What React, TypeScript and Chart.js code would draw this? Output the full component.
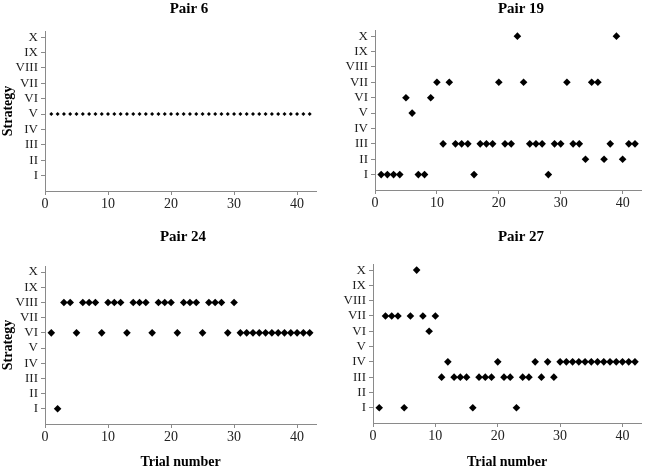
import { useEffect, useRef } from "react";
import { Chart, registerables } from "chart.js";

Chart.register(...registerables);

// trial numbers on the x axis
const trials = [
  1, 2, 3, 4, 5, 6, 7, 8, 9, 10, 11, 12, 13, 14, 15, 16, 17, 18, 19, 20, 21,
  22, 23, 24, 25, 26, 27, 28, 29, 30, 31, 32, 33, 34, 35, 36, 37, 38, 39, 40,
  41, 42,
];

// strategy labels, I = 1 ... X = 10
const strategyLabels = ["I", "II", "III", "IV", "V", "VI", "VII", "VIII", "IX", "X"];
const xTickValues = [0, 10, 20, 30, 40];

// chosen strategy per trial
const pair6 = [
  5, 5, 5, 5, 5, 5, 5, 5, 5, 5, 5, 5, 5, 5, 5, 5, 5, 5, 5, 5, 5, 5, 5, 5, 5, 5,
  5, 5, 5, 5, 5, 5, 5, 5, 5, 5, 5, 5, 5, 5, 5, 5,
];
const pair19 = [
  1, 1, 1, 1, 6, 5, 1, 1, 6, 7, 3, 7, 3, 3, 3, 1, 3, 3, 3, 7, 3, 3, 10, 7, 3,
  3, 3, 1, 3, 3, 7, 3, 3, 2, 7, 7, 2, 3, 10, 2, 3, 3,
];
const pair24 = [
  6, 1, 8, 8, 6, 8, 8, 8, 6, 8, 8, 8, 6, 8, 8, 8, 6, 8, 8, 8, 6, 8, 8, 8, 6, 8,
  8, 8, 6, 8, 6, 6, 6, 6, 6, 6, 6, 6, 6, 6, 6, 6,
];
const pair27 = [
  1, 7, 7, 7, 1, 7, 10, 7, 6, 7, 3, 4, 3, 3, 3, 1, 3, 3, 3, 4, 3, 3, 1, 3, 3, 4,
  3, 4, 3, 4, 4, 4, 4, 4, 4, 4, 4, 4, 4, 4, 4, 4,
];

const FONT = '"Liberation Serif", "Times New Roman", serif';
const AXIS_GREY = "#8a8a8a";

// draws the panel heading at a fixed spot in the canvas
const panelTitle = {
  id: "panelTitle",
  afterDraw(chart: any, _args: any, opts: any) {
    const { ctx } = chart;
    ctx.save();
    ctx.font = `bold 15px ${FONT}`;
    ctx.fillStyle = "#000";
    ctx.textAlign = "center";
    ctx.textBaseline = "alphabetic";
    ctx.fillText(opts.text, opts.x, opts.y);
    ctx.restore();
  },
};

type PanelProps = {
  title: string;
  values: number[];
  left: number;
  top: number;
  w: number;
  h: number;
  area: { l: number; t: number; r: number; b: number };
  titleX: number;
  titleY: number;
  radius: number;
  showY: boolean;
  showX: boolean;
};

const Panel = (p: PanelProps) => {
  const ref = useRef<HTMLCanvasElement>(null);

  useEffect(() => {
    if (!ref.current) return;
    const chart = new Chart(ref.current, {
      type: "scatter",
      data: {
        datasets: [
          {
            data: trials.map((t, i) => ({ x: t, y: p.values[i] })),
            pointStyle: "rectRot",
            pointRadius: p.radius,
            pointHoverRadius: p.radius,
            pointBorderWidth: 0,
            backgroundColor: "#000",
            borderColor: "#000",
          },
        ],
      },
      plugins: [panelTitle],
      options: {
        animation: false,
        responsive: true,
        maintainAspectRatio: false,
        layout: {
          padding: { left: 0, top: p.area.t, right: p.w - p.area.r, bottom: 0 },
        },
        plugins: {
          legend: { display: false },
          tooltip: { enabled: false },
          panelTitle: { text: p.title, x: p.titleX, y: p.titleY },
        } as any,
        scales: {
          x: {
            type: "linear",
            min: 0,
            max: 43,
            afterBuildTicks: (s: any) => {
              s.ticks = xTickValues.map((v) => ({ value: v }));
            },
            afterFit: (s: any) => {
              s.height = p.h - p.area.b;
            },
            ticks: {
              autoSkip: false,
              maxRotation: 0,
              padding: 1,
              color: "#222",
              font: { family: FONT, size: 14 },
              callback: (v: any) => String(v),
            },
            grid: {
              drawOnChartArea: false,
              drawTicks: true,
              tickLength: 4,
              color: AXIS_GREY,
            },
            border: { display: true, color: AXIS_GREY },
            title: {
              display: p.showX,
              text: "Trial number",
              color: "#000",
              font: { family: FONT, size: 14, weight: "bold", lineHeight: 1 },
              padding: { top: 0, bottom: -2 },
            },
          },
          y: {
            type: "linear",
            min: 0,
            max: 10.4,
            afterBuildTicks: (s: any) => {
              s.ticks = strategyLabels.map((_, i) => ({ value: i + 1 }));
            },
            afterFit: (s: any) => {
              s.width = p.area.l;
            },
            ticks: {
              autoSkip: false,
              padding: 3,
              color: "#222",
              font: { family: FONT, size: 13 },
              callback: (v: any) => strategyLabels[Number(v) - 1] ?? "",
            },
            grid: {
              drawOnChartArea: false,
              drawTicks: true,
              tickLength: 4,
              color: AXIS_GREY,
            },
            border: { display: true, color: AXIS_GREY },
            title: {
              display: p.showY,
              text: "Strategy",
              color: "#000",
              font: { family: FONT, size: 14, weight: "bold", lineHeight: 1 },
              padding: { top: 1, bottom: 0 },
            },
          },
        },
      },
    });
    return () => chart.destroy();
  }, []);

  return (
    <div
      style={{
        position: "absolute",
        left: p.left,
        top: p.top,
        width: p.w,
        height: p.h,
      }}
    >
      <canvas ref={ref}></canvas>
    </div>
  );
};

const App = () => {
  return (
    <div
      style={{
        position: "absolute",
        left: 0,
        top: 0,
        width: 645,
        height: 467,
        overflow: "hidden",
        background: "#fff",
      }}
    >
      <Panel
        title="Pair 6"
        values={pair6}
        left={0}
        top={0}
        w={330}
        h={226}
        area={{ l: 45, t: 31, r: 316, b: 191 }}
        titleX={189}
        titleY={13}
        radius={2}
        showY={true}
        showX={false}
      />
      <Panel
        title="Pair 19"
        values={pair19}
        left={330}
        top={0}
        w={315}
        h={226}
        area={{ l: 45, t: 30, r: 313, b: 190 }}
        titleX={191}
        titleY={13}
        radius={3.8}
        showY={false}
        showX={false}
      />
      <Panel
        title="Pair 24"
        values={pair24}
        left={0}
        top={226}
        w={330}
        h={241}
        area={{ l: 45, t: 40, r: 316, b: 198 }}
        titleX={183}
        titleY={15}
        radius={3.8}
        showY={true}
        showX={true}
      />
      <Panel
        title="Pair 27"
        values={pair27}
        left={330}
        top={226}
        w={315}
        h={241}
        area={{ l: 43, t: 38, r: 313, b: 197 }}
        titleX={191}
        titleY={15}
        radius={3.8}
        showY={false}
        showX={true}
      />
    </div>
  );
};

export default App;
